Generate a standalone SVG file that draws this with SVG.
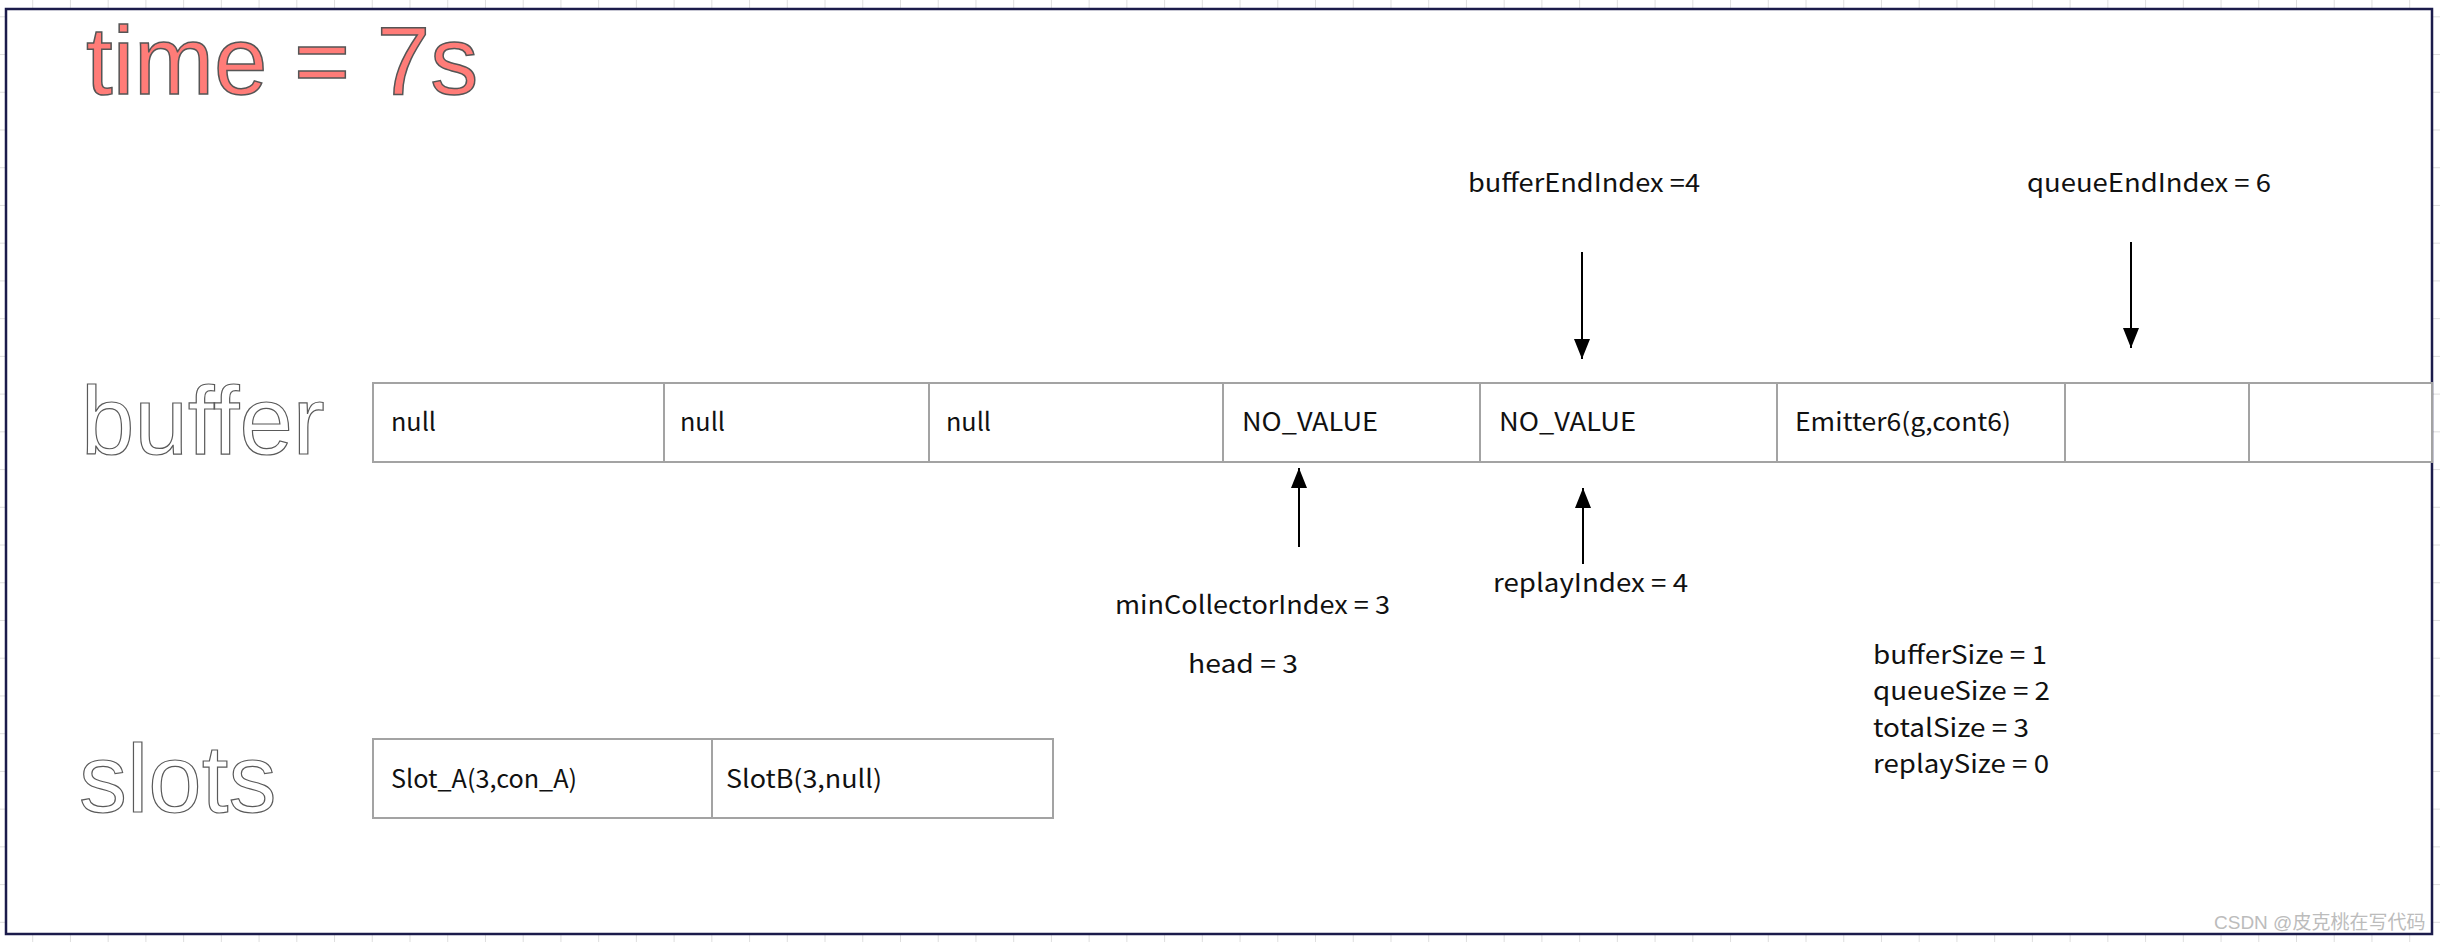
<svg xmlns="http://www.w3.org/2000/svg" width="2440" height="942" viewBox="0 0 2440 942">
<style>
.big{font-family:"Liberation Sans",Arial,sans-serif;font-size:96px}
.title{fill:#FF7C78;stroke:#555;stroke-width:1.5}
.outline{fill:#fff;stroke:#5a5a5a;stroke-width:1.2}
.t{font-family:"Noto Sans CJK SC","Noto Sans",sans-serif;font-size:25px;fill:#111}
.cell{fill:#fff;stroke:#a3a3a3;stroke-width:2}
.conn{stroke:#000;stroke-width:2;fill:none}
.wm{font-family:"Liberation Sans","Noto Sans CJK SC",sans-serif;font-size:19px;fill:#bcbcbc}
</style>
<defs>
<pattern id="grid" patternUnits="userSpaceOnUse" x="32.2" y="16.3" width="37.73" height="37.73">
<path d="M0.5,0 V37.73 M0,0.5 H37.73" stroke="#dedede" stroke-width="1" fill="none"/>
</pattern>
<marker id="ah" markerWidth="20" markerHeight="16" refX="20" refY="8" orient="auto" markerUnits="userSpaceOnUse">
<path d="M0,0 L20,8 L0,16 z" fill="#000"/>
</marker>
</defs>
<rect width="2440" height="942" fill="#fff"/>
<rect width="2440" height="942" fill="url(#grid)"/>
<rect id="frame" x="6" y="9" width="2426" height="925" fill="#fff" stroke="#1b1b4b" stroke-width="2.5"/>

<g id="title"><text class="big title" x="86" y="94">time = 7s</text></g>
<g id="label-buffer"><text class="big outline" x="81" y="454">buffer</text></g>
<g id="label-slots"><text class="big outline" x="79" y="812">slots</text></g>

<g id="buffer">
<rect class="cell" x="373" y="383" width="291" height="79"/>
<rect class="cell" x="664" y="383" width="265" height="79"/>
<rect class="cell" x="929" y="383" width="294" height="79"/>
<rect class="cell" x="1223" y="383" width="257" height="79"/>
<rect class="cell" x="1480" y="383" width="297" height="79"/>
<rect class="cell" x="1777" y="383" width="288" height="79"/>
<rect class="cell" x="2065" y="383" width="184" height="79"/>
<rect class="cell" x="2249" y="383" width="183" height="79"/>
<text class="t" x="391" y="431" textLength="45" lengthAdjust="spacingAndGlyphs">null</text>
<text class="t" x="680" y="431" textLength="45" lengthAdjust="spacingAndGlyphs">null</text>
<text class="t" x="946" y="431" textLength="45" lengthAdjust="spacingAndGlyphs">null</text>
<text class="t" x="1242" y="431" textLength="136" lengthAdjust="spacingAndGlyphs">NO_VALUE</text>
<text class="t" x="1499" y="431" textLength="137" lengthAdjust="spacingAndGlyphs">NO_VALUE</text>
<text class="t" x="1795" y="431" textLength="216" lengthAdjust="spacingAndGlyphs">Emitter6(g,cont6)</text>
</g>

<g id="slots">
<rect class="cell" x="373" y="739" width="339" height="79"/>
<rect class="cell" x="712" y="739" width="341" height="79"/>
<text class="t" x="391" y="788" textLength="186" lengthAdjust="spacingAndGlyphs">Slot_A(3,con_A)</text>
<text class="t" x="726" y="788" textLength="156" lengthAdjust="spacingAndGlyphs">SlotB(3,null)</text>
</g>

<g id="labels">
<text class="t" x="1468" y="192" textLength="232" lengthAdjust="spacingAndGlyphs">bufferEndIndex =4</text>
<text class="t" x="2027" y="192" textLength="244" lengthAdjust="spacingAndGlyphs">queueEndIndex = 6</text>
<text class="t" x="1115" y="614" textLength="275" lengthAdjust="spacingAndGlyphs">minCollectorIndex = 3</text>
<text class="t" x="1188" y="673" textLength="110" lengthAdjust="spacingAndGlyphs">head = 3</text>
<text class="t" x="1493" y="592" textLength="195" lengthAdjust="spacingAndGlyphs">replayIndex = 4</text>
</g>

<g id="sizes">
<text class="t" x="1873" y="664" textLength="174" lengthAdjust="spacingAndGlyphs">bufferSize = 1</text>
<text class="t" x="1873" y="700" textLength="177" lengthAdjust="spacingAndGlyphs">queueSize = 2</text>
<text class="t" x="1873" y="737" textLength="156" lengthAdjust="spacingAndGlyphs">totalSize = 3</text>
<text class="t" x="1873" y="773" textLength="176" lengthAdjust="spacingAndGlyphs">replaySize = 0</text>
</g>

<g id="connectors">
<line class="conn" x1="1582" y1="252" x2="1582" y2="359" marker-end="url(#ah)"/>
<line class="conn" x1="2131" y1="242" x2="2131" y2="348" marker-end="url(#ah)"/>
<line class="conn" x1="1299" y1="547" x2="1299" y2="468" marker-end="url(#ah)"/>
<line class="conn" x1="1583" y1="564" x2="1583" y2="488" marker-end="url(#ah)"/>
</g>

<text class="wm" x="2214" y="929">CSDN @皮克桃在写代码</text>
</svg>
